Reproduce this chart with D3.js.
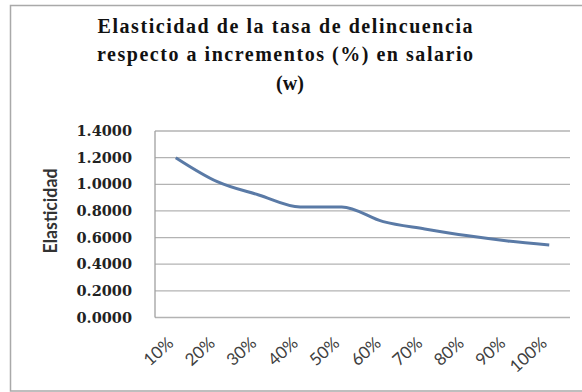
<!DOCTYPE html>
<html>
<head>
<meta charset="utf-8">
<script src="https://cdn.jsdelivr.net/npm/d3@7"></script>
<style>
  html, body { margin: 0; padding: 0; background: #fff; }
  svg { display: block; }
</style>
</head>
<body>
<svg id="chart" width="582" height="392"></svg>
<script>
// Elasticity of the crime rate for each salary increment
const categories = ["10%", "20%", "30%", "40%", "50%", "60%", "70%", "80%", "90%", "100%"];
const elasticity = [1.20, 1.02, 0.92, 0.83, 0.83, 0.72, 0.665, 0.615, 0.575, 0.545];
const yTicks = [0, 0.2, 0.4, 0.6, 0.8, 1.0, 1.2, 1.4];
const titleLines = [
  "Elasticidad de la tasa de delincuencia",
  "respecto a incrementos (%) en salario",
  "(w)"
];
const yTitle = "Elasticidad";

const svg = d3.select("#chart");

// outer chart frame
svg.append("rect")
  .attr("x", 10.5).attr("y", 5.5)
  .attr("width", 580).attr("height", 385.5)
  .attr("fill", "#fff")
  .attr("stroke", "#a9a9a9")
  .attr("stroke-width", 1.5);

const plot = { left: 155, right: 570, top: 131, bottom: 317.5 };

const x = d3.scaleBand()
  .domain(categories)
  .range([plot.left, plot.right]);

const y = d3.scaleLinear()
  .domain([0, 1.4])
  .range([plot.bottom, plot.top]);

// title, three centred lines
const titleY = [33, 61, 90];
const titleLen = [375, 376, null];
const titleX = [285, 285, 290];
titleLines.forEach((t, i) => {
  const txt = svg.append("text")
    .attr("x", titleX[i]).attr("y", titleY[i])
    .attr("text-anchor", "middle")
    .style("font-family", "'Liberation Serif', 'DejaVu Serif', serif")
    .style("font-weight", "bold")
    .style("font-size", "20px")
    .attr("fill", "#111")
    .text(t);
  if (titleLen[i]) txt.attr("textLength", titleLen[i]).attr("lengthAdjust", "spacing");
});

// horizontal gridlines
svg.append("g")
  .selectAll("line")
  .data(yTicks)
  .join("line")
  .attr("x1", plot.left).attr("x2", plot.right)
  .attr("y1", d => y(d)).attr("y2", d => y(d))
  .attr("stroke", "#b3b3b3")
  .attr("stroke-width", 1.3);

// left axis line
svg.append("line")
  .attr("x1", plot.left).attr("x2", plot.left)
  .attr("y1", y(1.4)).attr("y2", y(0))
  .attr("stroke", "#a0a0a0")
  .attr("stroke-width", 1.3);

// y axis labels
const yAxis = d3.axisLeft(y)
  .tickValues(yTicks)
  .tickFormat(d3.format(".4f"))
  .tickSize(0)
  .tickPadding(23);
const gy = svg.append("g")
  .attr("transform", `translate(${plot.left},0)`)
  .call(yAxis);
gy.select(".domain").remove();
gy.selectAll("text")
  .attr("font-family", "DejaVu Serif, serif")
  .attr("font-weight", "bold")
  .attr("font-size", 14.5)
  .attr("fill", "#222");

// x axis labels, rotated
const xAxis = d3.axisBottom(x).tickSize(0).tickPadding(0);
const gx = svg.append("g")
  .attr("transform", `translate(0,${plot.bottom})`)
  .call(xAxis);
gx.select(".domain").remove();
gx.selectAll("text")
  .attr("text-anchor", "end")
  .attr("dy", null)
  .attr("y", 0)
  .attr("transform", "translate(-1,27) rotate(-42)")
  .attr("font-family", "Lato, Open Sans, sans-serif")
  .attr("font-size", 17)
  .attr("fill", "#404040");

// y axis title
svg.append("text")
  .attr("transform", "translate(57,211) rotate(-90)")
  .attr("text-anchor", "middle")
  .attr("font-family", "Lato, Open Sans, sans-serif")
  .attr("font-weight", "bold")
  .attr("font-size", 18)
  .attr("textLength", 85)
  .attr("lengthAdjust", "spacingAndGlyphs")
  .attr("fill", "#333")
  .text(yTitle);

// series line
const line = d3.line()
  .x((d, i) => x(categories[i]) + x.bandwidth() / 2)
  .y(d => y(d))
  .curve(d3.curveMonotoneX);

svg.append("path")
  .datum(elasticity)
  .attr("d", line)
  .attr("fill", "none")
  .attr("stroke", "#5a7aa6")
  .attr("stroke-width", 3)
  .attr("stroke-linejoin", "round");
</script>
</body>
</html>
